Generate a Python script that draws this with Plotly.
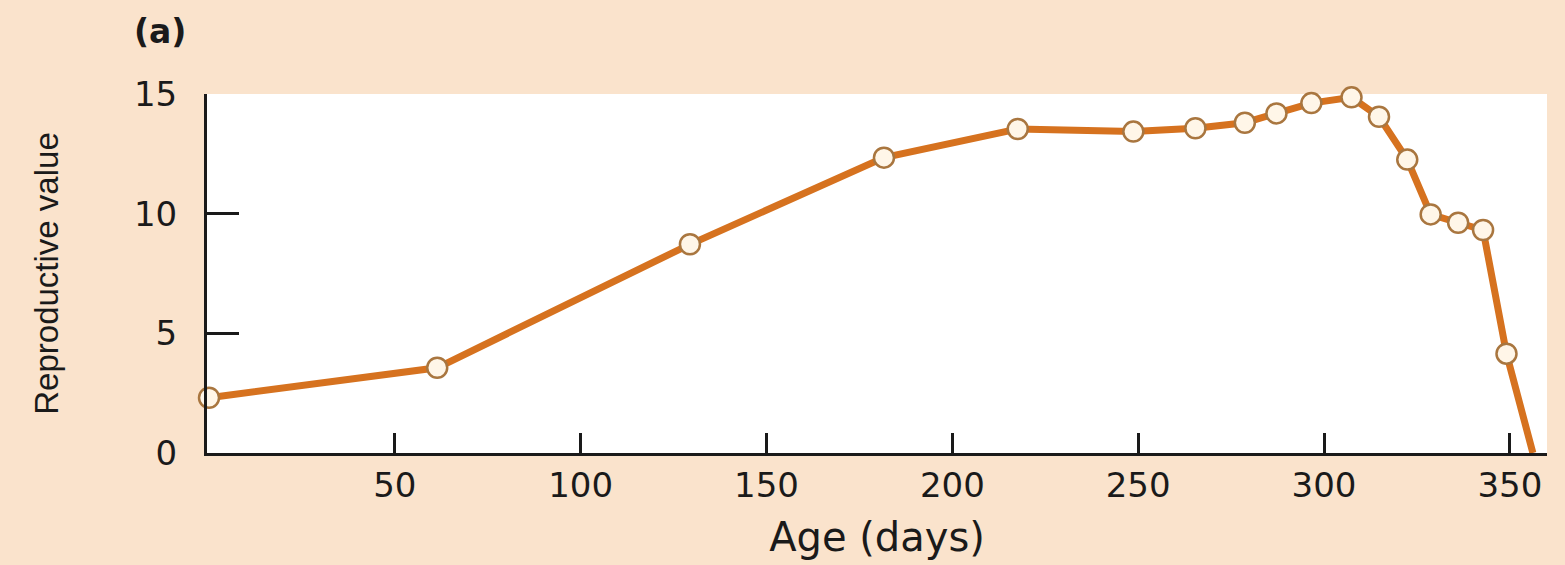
import plotly.graph_objects as go

# Data
ages = [0, 61.4, 129.4, 181.6, 217.6, 248.7, 265.4, 278.7, 287.2, 296.6,
        307.4, 314.8, 322.4, 328.7, 336.1, 342.8, 349.1]
rep_values = [2.31, 3.56, 8.72, 12.34, 13.54, 13.43, 13.57, 13.8, 14.19, 14.62,
              14.86, 14.05, 12.26, 9.97, 9.62, 9.32, 4.15]
end_age = [356.2]
end_value = [0]
x_ticks = [50, 100, 150, 200, 250, 300, 350]
y_ticks = [0, 5, 10, 15]

BG = "#FAE3CC"
LINE = "#D6721F"
TXT = "#1a1a1a"

fig = go.Figure()
fig.add_trace(go.Scatter(
    x=ages + end_age, y=rep_values + end_value, mode="lines",
    line=dict(color=LINE, width=7), hoverinfo="skip", showlegend=False))
fig.add_trace(go.Scatter(
    x=ages, y=rep_values, mode="markers",
    marker=dict(size=20, color="#FFF6E8", line=dict(color="#A9763F", width=2.5)),
    showlegend=False, cliponaxis=False))

fig.update_layout(
    width=1565, height=565,
    paper_bgcolor=BG, plot_bgcolor="white",
    margin=dict(l=207, r=18, t=94, b=110),
    font=dict(family="DejaVu Sans", color=TXT),
    xaxis=dict(
        range=[-0.54, 360], tickvals=x_ticks, ticks="inside", ticklen=20,
        tickwidth=3, tickcolor=TXT, showline=True, linecolor=TXT, linewidth=3,
        showgrid=False, zeroline=False, ticklabelstandoff=0,
        tickfont=dict(family="DejaVu Sans", size=34, color=TXT),
        title=dict(text="Age (days)", standoff=20,
                   font=dict(family="DejaVu Sans", size=40, color=TXT)),
    ),
    yaxis=dict(
        range=[0, 15], tickvals=y_ticks, ticks="inside", ticklen=32,
        tickwidth=3, tickcolor=TXT, showline=True, linecolor=TXT, linewidth=3,
        showgrid=False, zeroline=False, ticklabelstandoff=20,
        tickfont=dict(family="DejaVu Sans", size=34, color=TXT),
        title=dict(text="Reproductive value", standoff=66,
                   font=dict(family="Liberation Sans", size=33, color=TXT)),
    ),
)
fig.add_annotation(text="<b>(a)</b>", xref="paper", yref="paper",
                   x=(160 - 207) / 1340, y=1 + (94 - 31) / 361,
                   xanchor="center", yanchor="middle", showarrow=False,
                   font=dict(family="DejaVu Sans", size=33, color=TXT))

fig.write_html("out.html", config={"displayModeBar": False},
               post_script="document.body.style.margin='0';document.body.style.padding='0';")
